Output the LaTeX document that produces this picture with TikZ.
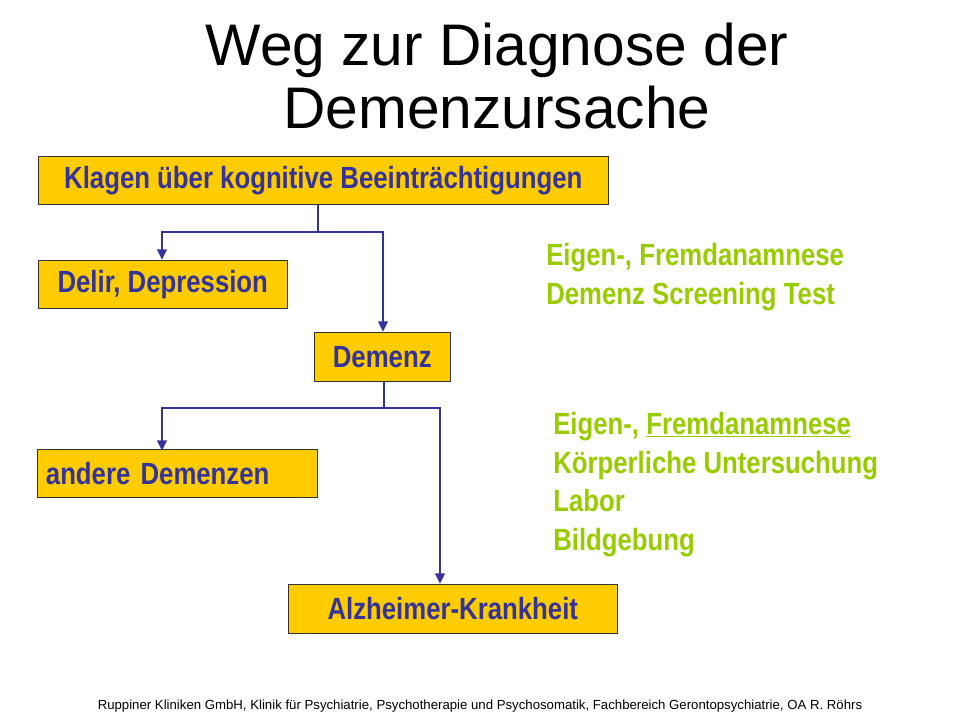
\documentclass[tikz,border=0pt]{standalone}
\usepackage{fontspec}
\setmainfont{Liberation Sans}
\newfontfamily\narrowfont[FakeStretch=0.84]{Liberation Sans}
\usepackage{xcolor}
\usetikzlibrary{positioning,arrows.meta}
\definecolor{boxfill}{RGB}{255,204,0}
\definecolor{boxtext}{RGB}{51,51,153}
\definecolor{notegreen}{RGB}{153,204,0}
\tikzset{
  stepbox/.style={draw=black!80,fill=boxfill,text=boxtext,font=\narrowfont\bfseries\fontsize{23}{26}\selectfont,inner sep=0pt,anchor=north west},
  flow/.style={draw=boxtext,line width=2pt},
  flowarrow/.style={flow,-{Triangle[length=8pt,width=7pt]}},
  note/.style={text=notegreen,font=\narrowfont\bfseries\fontsize{23}{29}\selectfont,align=left,anchor=north west,inner sep=0pt}
}
\begin{document}
\begin{tikzpicture}[x=0.75pt,y=0.75pt,yscale=-1,xscale=1]
  \useasboundingbox (0,0) rectangle (960,720);

  % Title
  \node (title) at (497,76) [align=center,font=\fontsize{44}{47}\selectfont] {Weg zur Diagnose der\\Demenzursache};

  % Boxes
  \node (klagen) at (38,156) [stepbox,minimum width=427.5pt,minimum height=36pt] {Klagen über kognitive Beeinträchtigungen};
  \node (delir) at (38,260) [stepbox,minimum width=186.75pt,minimum height=36pt] {Delir, Depression};
  \node (demenz) at (314,332) [stepbox,minimum width=102pt,minimum height=36.75pt] {Demenz};
  \node (andere) at (37,449) [stepbox,minimum width=210pt,minimum height=36pt,text width=205pt,align=left] {\hspace*{4pt}andere Demenzen};
  \node (alzheimer) at (288,584) [stepbox,minimum width=246.75pt,minimum height=36.75pt] {Alzheimer-Krankheit};

  % Connectors
  \coordinate (s1) at (318,232);
  \coordinate (s2) at (384,408);
  \draw [flow] (klagen.south -| s1) -- (s1);
  \draw [flowarrow] (s1) -| (delir.north -| 162,0);
  \draw [flowarrow] (s1) -| (demenz.north -| 383,0);
  \draw [flow] (demenz.south -| s2) -- (s2);
  \draw [flowarrow] (s2) -| ([yshift=1.5pt]andere.north -| 162,0);
  \draw [flowarrow] (s2) -| (alzheimer.north -| 440,0);

  % Notes
  \node (note1) at (546,243) [note] {Eigen-, Fremdanamnese\\Demenz Screening Test};
  \node (note2) at (553,412) [note] {Eigen-, \underline{Fremdanamnese}\\Körperliche Untersuchung\\Labor\\Bildgebung};

  % Footer
  \node (footer) at (480,706) [font=\fontsize{9.9}{11}\selectfont] {Ruppiner Kliniken GmbH, Klinik für Psychiatrie, Psychotherapie und Psychosomatik, Fachbereich Gerontopsychiatrie, OA R. Röhrs};
\end{tikzpicture}
\end{document}
